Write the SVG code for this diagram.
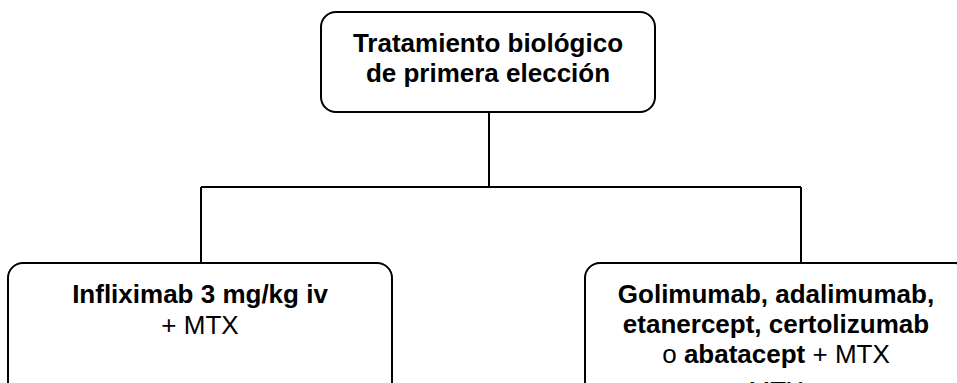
<svg xmlns="http://www.w3.org/2000/svg" width="957" height="383" viewBox="0 0 957 383">
<style>
.box{fill:#fff;stroke:#000;stroke-width:2}
.conn{fill:none;stroke:#000;stroke-width:2}
text{font-family:"Liberation Sans",Arial,sans-serif;font-size:26px;fill:#000;text-anchor:middle}
.b{font-weight:bold}
</style>
<rect width="957" height="383" fill="#fff"/>
<g id="connectors">
<path class="conn" d="M489 112 V187 M201 187 H801 M201 187 V263 M801 187 V263"/>
</g>
<g id="top">
<rect class="box" x="321" y="12" width="334" height="100" rx="15"/>
<text class="b" x="488" y="52">Tratamiento biológico</text>
<text class="b" x="488" y="82">de primera elección</text>
</g>
<g id="left">
<rect class="box" x="8" y="263" width="384" height="150" rx="15"/>
<text class="b" x="200" y="303">Infliximab 3 mg/kg iv</text>
<text x="200" y="334">+ MTX</text>
</g>
<g id="right">
<rect class="box" x="585" y="263" width="385" height="150" rx="15"/>
<text class="b" x="776" y="303">Golimumab, adalimumab,</text>
<text class="b" x="776" y="333">etanercept, certolizumab</text>
<text x="776" y="363">o <tspan class="b">abatacept</tspan> + MTX</text>
<text x="776" y="400" fill="#aaa">MTX</text>
</g>
</svg>
